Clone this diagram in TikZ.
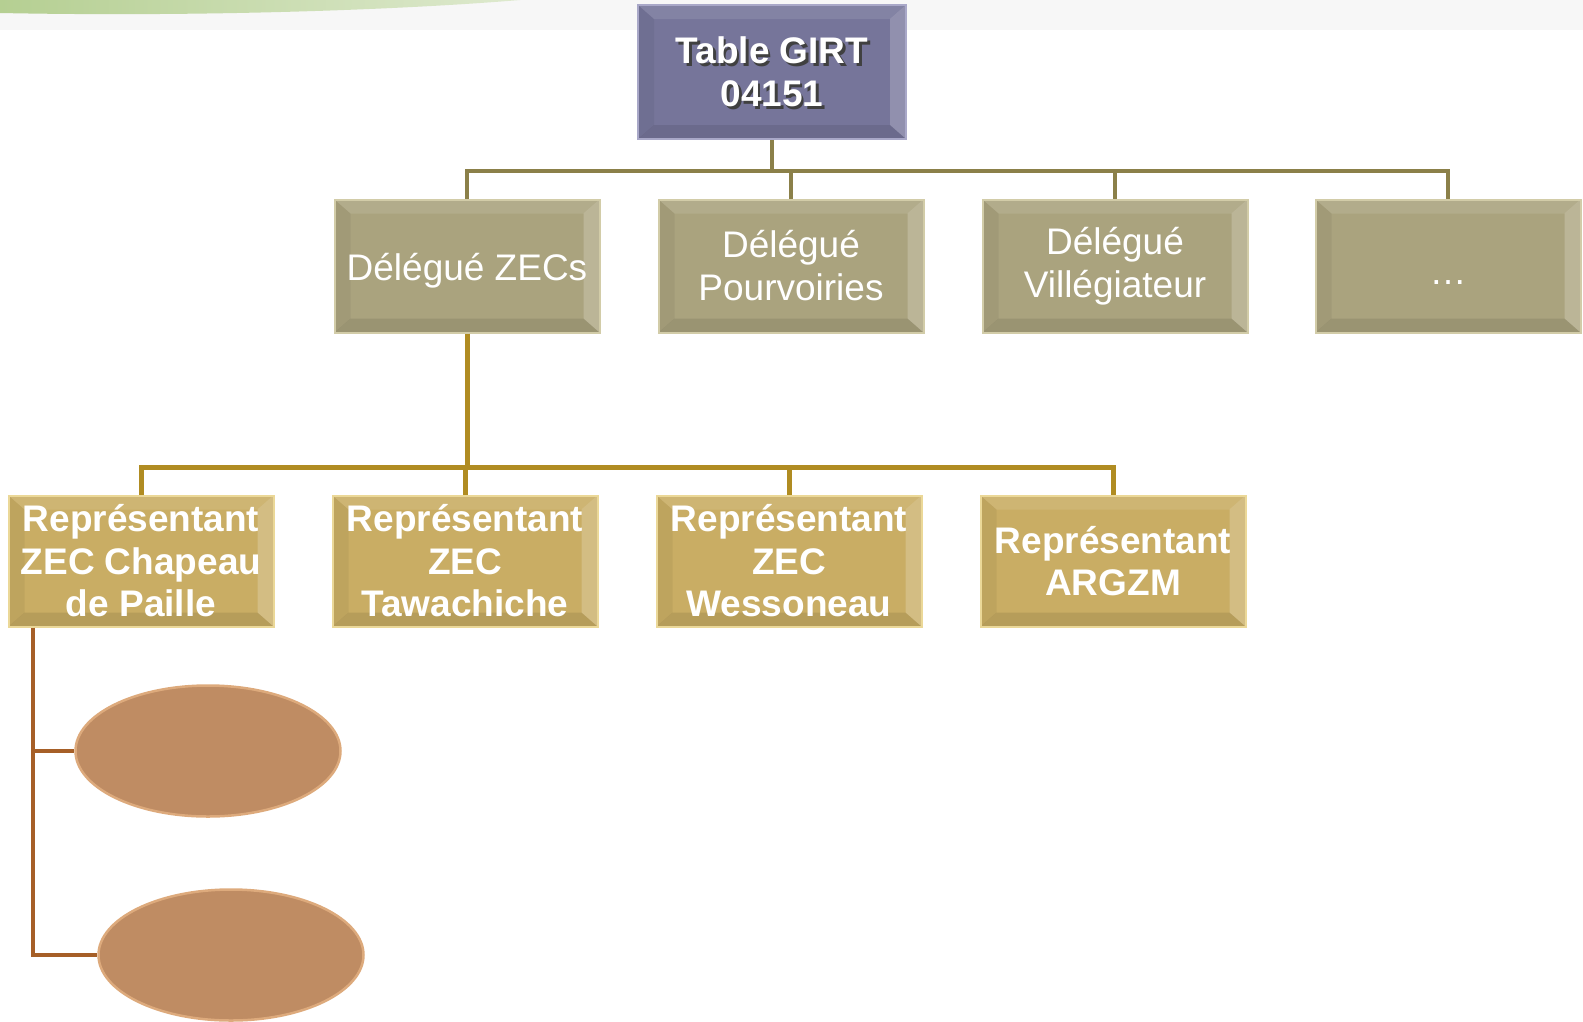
\documentclass[tikz,border=0pt]{standalone}
\usepackage{fontspec}
\setmainfont{Liberation Sans}
\usepackage{tikz}
\usetikzlibrary{positioning,shapes.geometric}

\definecolor{girtfill}{HTML}{76759A}
\definecolor{girtborder}{HTML}{A9A8C8}
\definecolor{delfill}{HTML}{AAA37E}
\definecolor{delborder}{HTML}{D2CCA8}
\definecolor{delline}{HTML}{8B8049}
\definecolor{repfill}{HTML}{C9AD64}
\definecolor{repborder}{HTML}{EBD898}
\definecolor{repline}{HTML}{B08C22}
\definecolor{ovalfill}{HTML}{BF8C63}
\definecolor{ovalborder}{HTML}{DDAA7C}
\definecolor{ovalline}{HTML}{A65F27}
\definecolor{arcgreen}{HTML}{B5CF92}

\newcommand{\shadowed}[1]{\makebox[0pt][l]{\hspace{2.5pt}\raisebox{-2.5pt}[0pt][0pt]{\color{black!75}#1}}#1}

\tikzset{
  bevel/.style={path picture={
    \path (path picture bounding box.north west) coordinate (bnw)
          (path picture bounding box.north east) coordinate (bne)
          (path picture bounding box.south west) coordinate (bsw)
          (path picture bounding box.south east) coordinate (bse);
    \fill[white,opacity=.10] (bnw) -- (bne) -- ([shift={(-16pt,-14pt)}]bne) -- ([shift={(16pt,-14pt)}]bnw) -- cycle;
    \fill[white,opacity=.20] (bne) -- (bse) -- ([shift={(-16pt,14pt)}]bse) -- ([shift={(-16pt,-14pt)}]bne) -- cycle;
    \fill[black,opacity=.09] (bse) -- (bsw) -- ([shift={(16pt,14pt)}]bsw) -- ([shift={(-16pt,14pt)}]bse) -- cycle;
    \fill[black,opacity=.05] (bsw) -- (bnw) -- ([shift={(16pt,-14pt)}]bnw) -- ([shift={(16pt,14pt)}]bsw) -- cycle;
  }},
  box/.style={rectangle, bevel, line width=2pt, align=center, text=white,
    font=\fontsize{37}{43}\selectfont, inner sep=2pt,
    execute at begin node={\rule{0pt}{37pt}}},
  girt/.style={box, fill=girtfill, draw=girtborder, minimum width=268pt,
    minimum height=134pt, font=\fontsize{37}{43}\selectfont\bfseries},
  delegue/.style={box, fill=delfill, draw=delborder, minimum width=265pt,
    minimum height=133pt},
  rep/.style={box, fill=repfill, draw=repborder, minimum width=265pt,
    minimum height=131pt, font=\fontsize{37}{42.5}\selectfont\bfseries},
  oval/.style={ellipse, fill=ovalfill, draw=ovalborder, line width=2.5pt,
    minimum width=265pt, minimum height=131pt},
  dellink/.style={draw=delline, line width=4pt},
  replink/.style={draw=repline, line width=5pt},
  ovallink/.style={draw=ovalline, line width=4pt},
}

\begin{document}
\begin{tikzpicture}[x=1pt,y=-1pt,node distance=324pt,on grid]
  \useasboundingbox (0,0) rectangle (1583,1021);
  % top band
  \fill[black!3] (0,0) rectangle (1583,30);
  \shade[left color=arcgreen, right color=arcgreen!45] (0,0) -- (0,13)
    .. controls (200,17) and (400,10) .. (520,0) -- cycle;

  \node[girt] (girt) at (772,72) {\shadowed{Table GIRT}\\\shadowed{04151}};

  \node[delegue] (d_zec) at (467,266) {Délégué ZECs};
  \node[delegue] (d_pourv) [right=of d_zec] {Délégué\\Pourvoiries};
  \node[delegue] (d_vill) [right=of d_pourv] {Délégué\\Villégiateur};
  \node[delegue] (d_more) [right=333pt of d_vill] {\ldots};

  \node[rep] (r_chap) at (141,561) {Représentant\\ZEC Chapeau\\de Paille};
  \node[rep] (r_tawa) [right=of r_chap] {Représentant\\ZEC\\Tawachiche};
  \node[rep] (r_wess) [right=of r_tawa] {Représentant\\ZEC\\Wessoneau};
  \node[rep] (r_argzm) [right=of r_wess] {Représentant\\ARGZM};

  \node[oval] (o_one) at (208,751) {};
  \node[oval] (o_two) at (231,955) {};

  % links
  \path (girt.south) ++(0,31) coordinate (bus_del);
  \path (d_zec.south) ++(0,134) coordinate (bus_rep);
  \coordinate (trunk) at ([xshift=25pt]r_chap.south west);

  \draw[dellink] (girt.south) -- (bus_del);
  \draw[dellink] (d_zec.north) |- (bus_del) -| (d_more.north);
  \draw[dellink] (d_pourv.north) -- (d_pourv.north |- bus_del);
  \draw[dellink] (d_vill.north) -- (d_vill.north |- bus_del);

  \draw[replink] (d_zec.south) -- (bus_rep);
  \draw[replink] (r_chap.north) |- (bus_rep) -| (r_argzm.north);
  \draw[replink] (r_tawa.north) -- (r_tawa.north |- bus_rep);
  \draw[replink] (r_wess.north) -- (r_wess.north |- bus_rep);

  \draw[ovallink] (trunk) |- (o_two.west);
  \draw[ovallink] (trunk |- o_one.west) -- (o_one.west);
\end{tikzpicture}
\end{document}
